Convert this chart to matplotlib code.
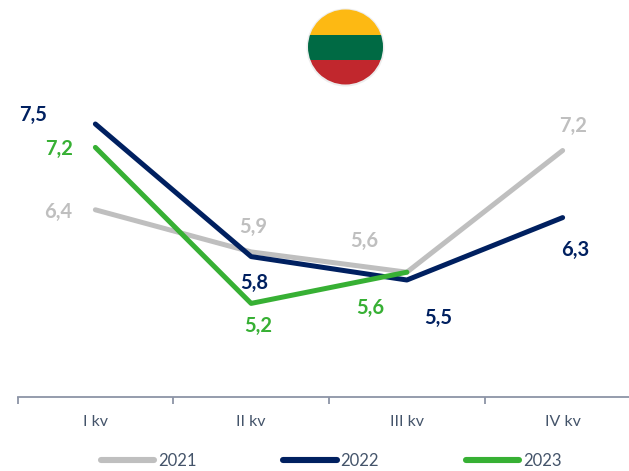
import numpy as np
import matplotlib
matplotlib.use('Agg')
import matplotlib.pyplot as plt
from matplotlib.patches import Circle, Rectangle

quarters = ['I kv', 'II kv', 'III kv', 'IV kv']
years = ['2021', '2022', '2023']
v2021 = [6.4, 5.86, 5.6, 7.16]
v2022 = [7.5, 5.8, 5.5, 6.3]
v2023 = [7.2, 5.2, 5.6]
labels2021 = ['6,4', '5,9', '5,6', '7,2']
labels2022 = ['7,5', '5,8', '5,5', '6,3']
labels2023 = ['7,2', '5,2', '5,6']

GRAY = '#BFBFBF'
NAVY = '#002060'
GREEN = '#37B034'
W, H = 629, 471

plt.rcParams['font.family'] = ['Lato', 'DejaVu Sans']
fig = plt.figure(figsize=(W / 100, H / 100), dpi=100)
# axes runs a bit past the right edge, like the source
ax = fig.add_axes([17.5 / W, (H - 397) / H, 623 / W, 390 / H])

x = np.arange(4)
ax.plot(x, v2021, color=GRAY, lw=3.6, label=years[0], solid_capstyle='round')
ax.plot(x, v2022, color=NAVY, lw=3.6, label=years[1], solid_capstyle='round')
ax.plot(x[:3], v2023, color=GREEN, lw=3.6, label=years[2], solid_capstyle='round')

ax.set_xlim(-0.5, 3.5)
ax.set_ylim(4, 9)

# label offsets in pixels from each point
off2021 = [(-37, -2), (2, 25), (-43, 31), (10, 25)]
off2022 = [(-62, 9), (3, -26), (31, -38), (13, -32)]
off2023 = [(-36, -2), (7, -23), (-37, -36)]
for vals, labs, offs, col in [(v2021, labels2021, off2021, GRAY),
                              (v2022, labels2022, off2022, NAVY),
                              (v2023, labels2023, off2023, GREEN)]:
    for i in range(len(vals)):
        ax.annotate(labs[i], (i, vals[i]), xytext=(offs[i][0] * 0.72, offs[i][1] * 0.72),
                    textcoords='offset points', ha='center', va='center',
                    color=col, fontsize=14.5, fontweight='bold', annotation_clip=False)

for s in ['top', 'left', 'right']:
    ax.spines[s].set_visible(False)
ax.spines['bottom'].set_color('#8C94A6')
ax.spines['bottom'].set_linewidth(1.3)
ax.set_yticks([])
ax.set_xticks(x)
ax.set_xticklabels(quarters, fontsize=11.5, color='#44546A')
ax.tick_params(axis='x', which='major', length=0, pad=13)
ax.set_xticks(np.arange(-0.5, 4, 1), minor=True)
ax.tick_params(axis='x', which='minor', length=5, width=1.3, color='#8C94A6')

leg = ax.legend(loc='lower left', bbox_to_anchor=(83 / 623, -72 / 390), ncol=3, frameon=False,
                fontsize=12, handlelength=3.2, handletextpad=0.25, columnspacing=5.2,
                labelcolor='#44546A', borderpad=0, borderaxespad=0)
for line in leg.get_lines():
    line.set_linewidth(4.4)

# flag badge
ov = fig.add_axes([0, 0, 1, 1], zorder=3)
ov.set_xlim(0, W)
ov.set_ylim(H, 0)
ov.axis('off')
cx, cy, r = 345.5, 47, 37.5
ov.add_patch(Circle((cx, cy + 0.5), r + 1.5, fc='#EDEDED', ec='none'))
clip = Circle((cx, cy), r, transform=ov.transData)
bands = [(9, 26, '#FDB913'), (35, 24.5, '#006A44'), (59.5, 26, '#C1272D')]
for top, h, col in bands:
    p = Rectangle((cx - r - 1, top), 2 * r + 2, h, fc=col, ec='none')
    ov.add_patch(p)
    p.set_clip_path(clip)

fig.savefig('out.png', dpi=100)
